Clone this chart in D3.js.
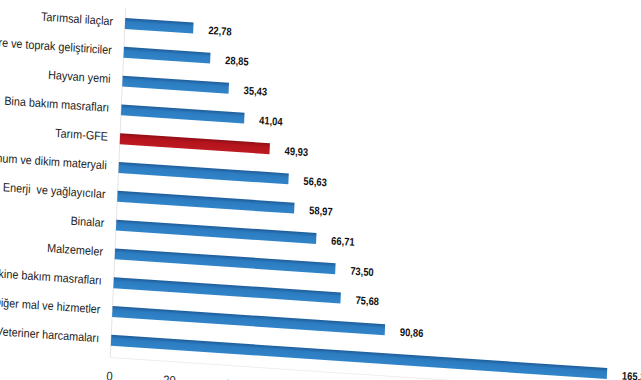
<!DOCTYPE html>
<html>
<head>
<meta charset="utf-8">
<script src="https://cdn.jsdelivr.net/npm/d3@7"></script>
<style>
  html, body { margin: 0; padding: 0; background: #fff; }
  svg { display: block; }
  text { white-space: pre; }
</style>
</head>
<body>
<svg id="chart" width="641" height="380"></svg>
<script>
const categories = [
  "Tarımsal ilaçlar",
  "Gübre ve toprak geliştiriciler",
  "Hayvan yemi",
  "Bina bakım masrafları",
  "Tarım-GFE",
  "Tohum ve dikim materyali",
  "Enerji  ve yağlayıcılar",
  "Binalar",
  "Malzemeler",
  "Makine bakım masrafları",
  "Diğer mal ve hizmetler",
  "Veteriner harcamaları"
];
const values = [22.78, 28.85, 35.43, 41.04, 49.93, 56.63, 58.97, 66.71, 73.50, 75.68, 90.86, 165.32];
const highlight = ["Tarım-GFE"];
const tickValues = [0, 20, 40, 60, 80, 100, 120, 140, 160, 180];

const svg = d3.select("#chart");
const defs = svg.append("defs");

function grad(id, c1, c2, c3) {
  const g = defs.append("linearGradient").attr("id", id)
    .attr("x1", 0).attr("y1", 0).attr("x2", 0).attr("y2", 1);
  g.append("stop").attr("offset", "0%").attr("stop-color", c1);
  g.append("stop").attr("offset", "35%").attr("stop-color", c2);
  g.append("stop").attr("offset", "100%").attr("stop-color", c3);
}
grad("gBlue", "#1d5c98", "#2d7cc1", "#3184c8");
grad("gRed", "#8e0f16", "#b5141d", "#bd1a22");

// Skewed (perspective-like) plane
const g = svg.append("g").attr("transform", "matrix(1,0.067,-0.044,1,125,23.5)");

const x = d3.scaleLinear().domain([0, 200]).range([0, 600]);
const y = d3.scaleBand().domain(categories).range([-14.4, 331.2])
  .paddingInner(0.62).paddingOuter(0.31);

// faint axis lines
g.append("line").attr("x1", x(0)).attr("x2", x(0))
  .attr("y1", -16).attr("y2", 334).attr("stroke", "#e4e4e4").attr("stroke-width", 1);
g.append("line").attr("x1", x(0)).attr("x2", x(200))
  .attr("y1", 334).attr("y2", 334).attr("stroke", "#eeeeee").attr("stroke-width", 1);

// bars
g.selectAll("rect.bar").data(categories).join("rect")
  .attr("class", "bar")
  .attr("x", x(0))
  .attr("y", d => y(d))
  .attr("width", (d, i) => x(values[i]) - x(0))
  .attr("height", y.bandwidth())
  .attr("fill", d => highlight.includes(d) ? "url(#gRed)" : "url(#gBlue)");

// category labels
g.selectAll("text.cat").data(categories).join("text")
  .attr("class", "cat")
  .attr("transform", d => `translate(${x(0) - 12},${y(d) + y.bandwidth() / 2 - 1.5}) scale(0.9,1)`)
  .attr("text-anchor", "end")
  .attr("dy", "0.35em")
  .style("font-family", "'Liberation Sans', Arial, sans-serif")
  .style("font-size", "12px")
  .attr("fill", "#222")
  .text(d => d);

// value labels
const fmt = v => d3.format(".2f")(v).replace(".", ",");
g.selectAll("text.val").data(categories).join("text")
  .attr("class", "val")
  .attr("transform", (d, i) => `translate(${x(values[i]) + 15},${y(d) + y.bandwidth() / 2 + 1}) scale(0.85,1)`)
  .attr("dy", "0.35em")
  .style("font-family", "'Liberation Sans', Arial, sans-serif")
  .style("font-size", "11px")
  .style("font-weight", "bold")
  .attr("fill", "#111")
  .text((d, i) => fmt(values[i]));

// tick labels
g.selectAll("text.tick").data(tickValues).join("text")
  .attr("class", "tick")
  .attr("transform", d => `translate(${x(d)},${352.5}) scale(0.9,1)`)
  .attr("text-anchor", "middle")
  .attr("dy", "0.35em")
  .style("font-family", "'Liberation Sans', Arial, sans-serif")
  .style("font-size", "12.5px")
  .attr("fill", "#222")
  .text(d => d);
</script>
</body>
</html>
